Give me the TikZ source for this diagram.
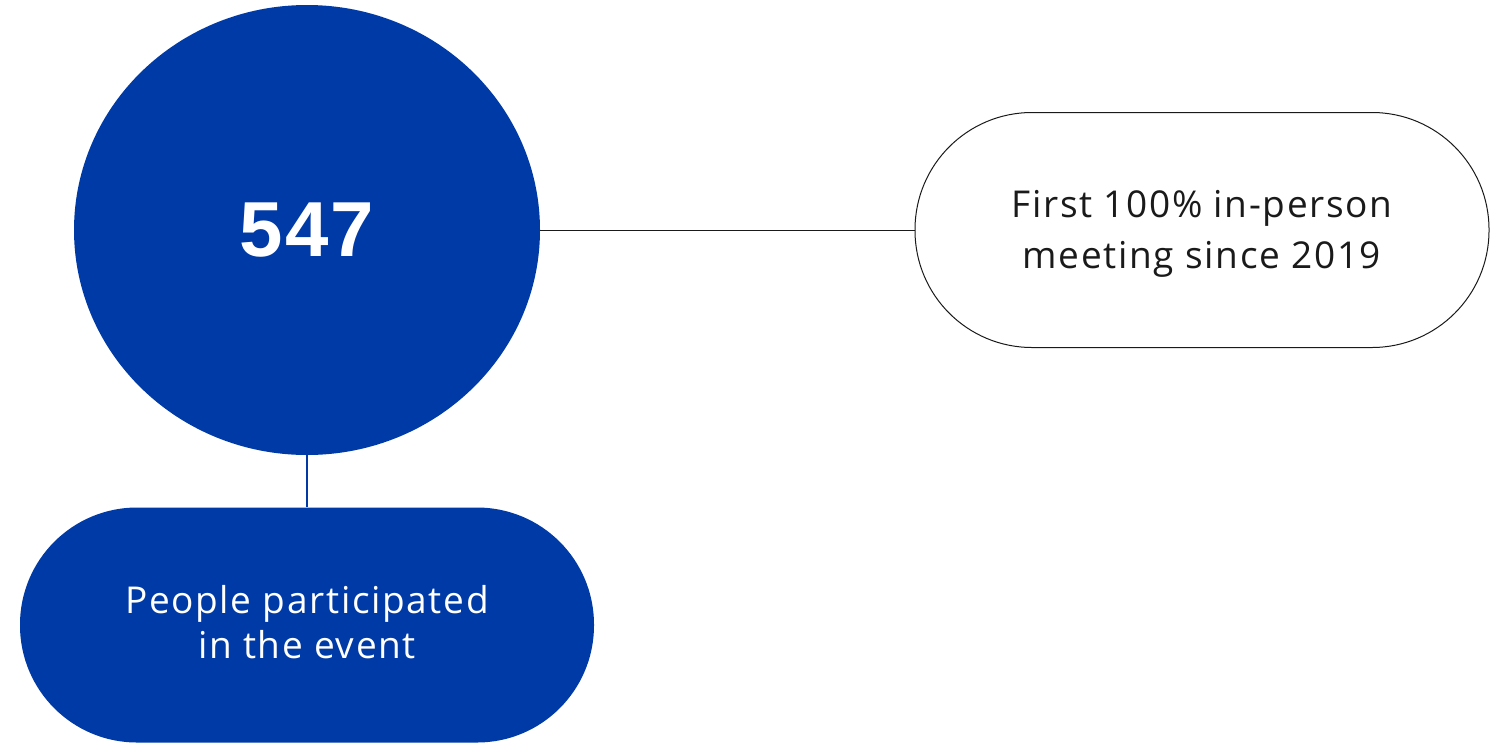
\documentclass[tikz,border=0pt]{standalone}
\usepackage{fontspec}
\setmainfont{Open Sans}[LetterSpace=4.5]
\newfontfamily\numfont{Liberation Sans}[LetterSpace=3]
\usetikzlibrary{positioning,shapes.geometric}
\definecolor{evblue} {HTML}{003AA6}
\definecolor{evink}  {HTML}{1A1A1A}
\tikzset{
  evcount/.style={ellipse, fill=evblue, draw=none, minimum width=466pt, minimum height=450pt,
                  inner sep=0pt, text=white, font=\numfont\bfseries\fontsize{78}{80}\selectfont},
  evpill/.style={rectangle, rounded corners=117pt, minimum width=574pt, minimum height=235pt,
                 inner sep=0pt, align=center},
  evnote/.style={evpill, draw=evink, line width=1pt, fill=white, text=evink,
                 font=\fontsize{37}{51}\selectfont},
  evfact/.style={evpill, fill=evblue, draw=none, text=white,
                 font=\fontsize{37}{45}\selectfont},
  evlink/.style={draw=evink, line width=1pt},
  evbluelink/.style={draw=evblue, line width=1.5pt},
}
\begin{document}
\begin{tikzpicture}[x=1pt,y=1pt]
  \useasboundingbox (0,0) rectangle (1490,-742);
  \clip (0,0) rectangle (1490,-742);
  \node[evcount] (count) at (307,-230) {547};
  \node[evnote] (note) at (1202,-230)
    {\rule{0pt}{34pt}First 100\% in-person\\meeting since 2019};
  \node[evfact] (event) at (307,-625)
    {People participated\\in the event\rule[-7pt]{0pt}{0pt}};
  \draw[evlink] (count) -- (note);
  \draw[evbluelink] (count) -- (event);
\end{tikzpicture}
\end{document}
